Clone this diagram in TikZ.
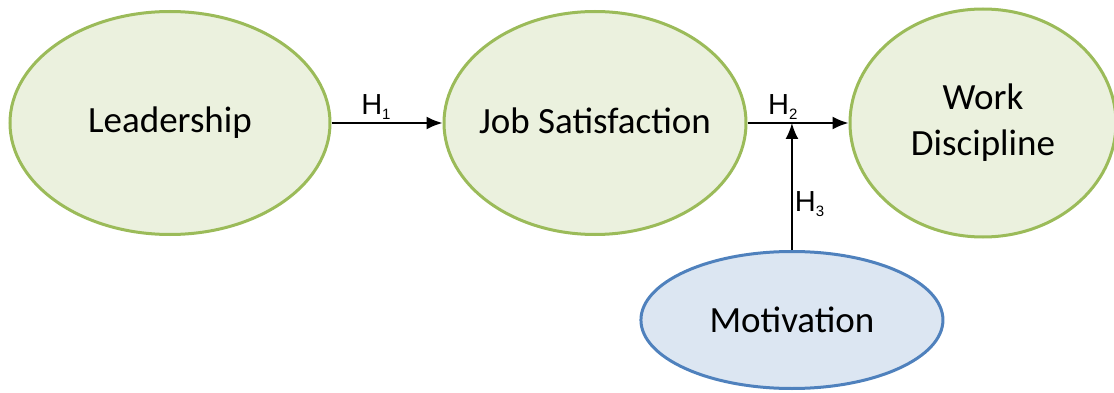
\documentclass[tikz,border=0pt]{standalone}
\usepackage{fontspec}
\setmainfont{Carlito}
\newfontfamily\hfont{Liberation Sans}
\usetikzlibrary{arrows.meta, shapes, positioning, calc}

\definecolor{grfill}{HTML}{EBF1DE}
\definecolor{grline}{HTML}{9BBB59}
\definecolor{blfill}{HTML}{DCE6F2}
\definecolor{blline}{HTML}{4F81BD}

\newcommand{\hyplabel}[1]{H\raisebox{-5pt}{\fontsize{15}{15}\selectfont #1}}

\begin{document}
\begin{tikzpicture}[x=1pt,y=-1pt,->,>={Latex[length=16pt,width=13pt]},line width=2pt,
	font=\fontsize{37}{46}\selectfont]
	
	\tikzset{var st/.style={ellipse, draw=grline, fill=grfill, line width=3pt,
			inner sep=-30pt, minimum width=320pt, minimum height=223pt, align=center},
		mod st/.style={var st, draw=blline, fill=blfill,
			minimum width=302pt, minimum height=137pt},
		hyp/.style={font=\hfont\fontsize{29}{30}\selectfont, text=black, inner sep=2pt}}
	
	\useasboundingbox (0,0) rectangle (1114,393);
	
	\node[var st] (L) at (170,123) {Leadership};
	\node[var st, minimum width=302pt, right=111pt of L] (JS) {\raisebox{4pt}{Job Satisfaction}};
	\node[var st, minimum width=266pt, minimum height=228pt, right=101pt of JS] (WD) {Work\\Discipline};
	
	\coordinate (j) at ($(JS.east)!0.44!(WD.west)$);
	\node[mod st, below=127pt of j] (M) {Motivation};
	
	\draw (L) edge node[hyp, above, pos=0.4]{\hyplabel{1}} (JS)
	(JS) edge node[hyp, above, pos=0.35]{\hyplabel{2}} (WD)
	(M) edge node[hyp, right, pos=0.36]{\hyplabel{3}} (j);
	
\end{tikzpicture}
\end{document}
